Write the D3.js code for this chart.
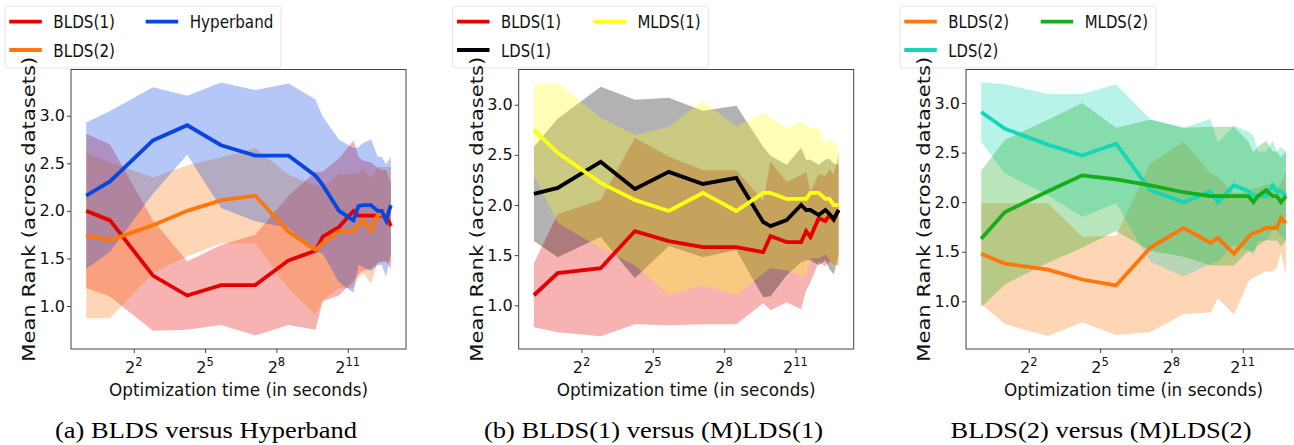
<!DOCTYPE html>
<html>
<head>
<meta charset="utf-8">
<script src="https://cdn.jsdelivr.net/npm/d3@7"></script>
<style>
  body { margin: 0; background: #fff; }
  svg { display: block; }
</style>
</head>
<body>
<div id="chart"></div>
<script>
// time points (seconds) shared by every series
var times = [1, 2, 7, 19, 51, 138, 365, 800, 990, 1585, 2420, 2800, 3170, 4040, 4900, 5520, 6250, 7200];
var xTickValues = [4, 32, 256, 2048];
var xTickExponents = ["2", "5", "8", "11"];
var yTickValues = [1.0, 1.5, 2.0, 2.5, 3.0];

// (a) BLDS versus Hyperband
var bldsOneMeanA = [2.00,1.90,1.32,1.11,1.22,1.22,1.48,1.58,1.73,1.83,2.00,1.95,1.95,1.95,1.95,1.95,1.95,1.84];
var bldsOneStdA  = [0.81,0.80,0.58,0.36,0.42,0.53,0.68,0.83,0.68,0.72,0.74,0.62,0.58,0.56,0.50,0.48,0.48,0.45];
var bldsTwoMeanA = [1.74,1.69,1.85,2.00,2.11,2.16,1.78,1.59,1.66,1.79,1.79,1.85,1.90,1.79,1.96,1.96,1.96,1.96];
var bldsTwoStdA  = [0.87,0.82,0.50,0.48,0.45,0.50,0.60,0.68,0.60,0.60,0.60,0.55,0.55,0.55,0.50,0.50,0.50,0.50];
var hyperMeanA   = [2.16,2.31,2.74,2.90,2.69,2.58,2.58,2.37,2.27,2.00,1.90,2.05,2.06,2.06,2.00,2.00,1.90,2.06];
var hyperStdA    = [0.77,0.74,0.56,0.31,0.66,0.69,0.76,0.80,0.72,0.75,0.76,0.62,0.65,0.69,0.57,0.57,0.59,0.51];

// (b) BLDS(1) versus (M)LDS(1)
var bldsOneMeanB = [1.10,1.32,1.37,1.74,1.64,1.58,1.58,1.53,1.69,1.63,1.63,1.74,1.68,1.87,1.84,1.90,1.85,1.95];
var bldsOneStdB  = [0.32,0.59,0.68,0.93,0.84,0.77,0.77,0.51,0.74,0.60,0.67,0.59,0.45,0.44,0.45,0.46,0.45,0.55];
var ldsOneMeanB  = [2.11,2.17,2.43,2.16,2.33,2.21,2.27,1.83,1.79,1.85,2.00,1.95,1.95,1.90,1.95,1.91,1.86,1.95];
var ldsOneStdB   = [0.47,0.69,0.75,0.89,0.74,0.73,0.72,0.75,0.70,0.55,0.57,0.50,0.50,0.50,0.50,0.55,0.55,0.45];
var mldsOneMeanB = [2.75,2.52,2.22,2.05,1.94,2.12,1.94,2.12,2.12,2.06,2.06,2.06,2.12,2.12,2.06,2.06,2.00,2.00];
var mldsOneStdB  = [0.45,0.70,0.65,0.65,0.84,0.92,0.84,0.80,0.75,0.71,0.77,0.74,0.65,0.65,0.55,0.60,0.62,0.57];

// BLDS(2) versus (M)LDS(2)
var bldsTwoMeanC = [1.48,1.38,1.32,1.22,1.16,1.54,1.74,1.59,1.64,1.48,1.65,1.69,1.70,1.74,1.74,1.74,1.84,1.79];
var bldsTwoStdC  = [0.51,0.61,0.67,0.43,0.50,0.85,0.87,0.70,0.61,0.61,0.45,0.45,0.44,0.44,0.44,0.40,0.35,0.52];
var ldsTwoMeanC  = [2.91,2.74,2.58,2.47,2.59,2.12,2.00,2.11,2.00,2.17,2.11,2.07,2.06,2.06,2.17,2.11,2.11,2.06];
var ldsTwoStdC   = [0.30,0.45,0.51,0.62,0.60,0.72,0.75,0.73,0.60,0.60,0.60,0.60,0.45,0.45,0.45,0.40,0.45,0.45];
var mldsTwoMeanC = [1.63,1.90,2.11,2.27,2.23,2.17,2.10,2.06,2.06,2.06,2.06,2.00,2.06,2.12,2.06,2.06,2.00,2.06];
var mldsTwoStdC  = [0.69,0.73,0.72,0.73,0.52,0.66,0.65,0.70,0.70,0.70,0.55,0.50,0.50,0.50,0.45,0.45,0.45,0.45];

var RED = "#e50000", ORANGE = "#ff760a", BLUE = "#0846e0",
    YELLOW = "#ffff14", BLACK = "#000000", TEAL = "#14d6b8", GREEN = "#15ad1a";

var panels = [
  { left: 71, yDomain: [0.548, 3.486], caption: "(a) BLDS versus Hyperband", captionX: 206, captionW: 302,
    legendW: 276,
    series: [
      { name: "BLDS(1)", color: RED, mean: bldsOneMeanA, std: bldsOneStdA, textW: 61.7 },
      { name: "BLDS(2)", color: ORANGE, mean: bldsTwoMeanA, std: bldsTwoStdA, textW: 61.7 },
      { name: "Hyperband", color: BLUE, mean: hyperMeanA, std: hyperStdA, textW: 83.7 }
    ] },
  { left: 518.7, yDomain: [0.564, 3.351], caption: "(b) BLDS(1) versus (M)LDS(1)", captionX: 653.5, captionW: 339,
    legendW: 255.6,
    series: [
      { name: "BLDS(1)", color: RED, mean: bldsOneMeanB, std: bldsOneStdB, textW: 60 },
      { name: "LDS(1)", color: BLACK, mean: ldsOneMeanB, std: ldsOneStdB, textW: 50 },
      { name: "MLDS(1)", color: YELLOW, mean: mldsOneMeanB, std: mldsOneStdB, textW: 63.3 }
    ] },
  { left: 966, yDomain: [0.519, 3.338], caption: "BLDS(2) versus (M)LDS(2)", captionX: 1101, captionW: 301,
    legendW: 256,
    series: [
      { name: "BLDS(2)", color: ORANGE, mean: bldsTwoMeanC, std: bldsTwoStdC, textW: 60.7 },
      { name: "LDS(2)", color: TEAL, mean: ldsTwoMeanC, std: ldsTwoStdC, textW: 50 },
      { name: "MLDS(2)", color: GREEN, mean: mldsTwoMeanC, std: mldsTwoStdC, textW: 63.3 }
    ] }
];

var width = 1294, height = 445;
var plotW = 335, plotTop = 69.5, plotBottom = 349;
var FONT = "DejaVu Sans, sans-serif";

var svg = d3.select("#chart").append("svg")
    .attr("width", width)
    .attr("height", height);

function drawPanel(p) {
  var g = svg.append("g");

  var x = d3.scaleLog().base(2)
      .domain([Math.pow(2, -0.64), Math.pow(2, 13.45)])
      .range([p.left, p.left + plotW]);
  var y = d3.scaleLinear()
      .domain(p.yDomain)
      .range([plotBottom, plotTop]);

  // std bands first (matplotlib draws collections under lines)
  p.series.forEach(function(s) {
    var band = d3.area()
        .x(function(d, i) { return x(times[i]); })
        .y0(function(d, i) { return y(s.mean[i] - s.std[i]); })
        .y1(function(d, i) { return y(s.mean[i] + s.std[i]); });
    g.append("path")
        .datum(s.mean)
        .attr("d", band)
        .attr("fill", s.color)
        .attr("fill-opacity", 0.3);
  });

  p.series.forEach(function(s) {
    var line = d3.line()
        .x(function(d, i) { return x(times[i]); })
        .y(function(d) { return y(d); });
    g.append("path")
        .datum(s.mean)
        .attr("d", line)
        .attr("fill", "none")
        .attr("stroke", s.color)
        .attr("stroke-width", 3.8)
        .attr("stroke-linejoin", "miter");
  });

  // frame
  g.append("rect")
      .attr("x", p.left).attr("y", plotTop)
      .attr("width", plotW).attr("height", plotBottom - plotTop)
      .attr("fill", "none").attr("stroke", "#444").attr("stroke-width", 1);

  // x axis
  var xAxis = g.append("g")
      .attr("transform", "translate(0," + plotBottom + ")")
      .call(d3.axisBottom(x).tickValues(xTickValues).tickSize(4).tickFormat(""));
  xAxis.select(".domain").remove();
  xAxis.selectAll(".tick line").attr("stroke", "#444");

  xTickValues.forEach(function(v, i) {
    var t = g.append("text")
        .attr("x", x(v))
        .attr("y", 372.5)
        .attr("text-anchor", "middle")
        .attr("font-family", FONT)
        .attr("font-size", 16)
        .attr("fill", "#111");
    t.append("tspan").text("2");
    t.append("tspan").attr("dy", -7).attr("font-size", 11.5).text(xTickExponents[i]);
  });

  // y axis
  var yAxis = g.append("g")
      .attr("transform", "translate(" + p.left + ",0)")
      .call(d3.axisLeft(y).tickValues(yTickValues).tickSize(4).tickPadding(2)
        .tickFormat(d3.format(".1f")));
  yAxis.select(".domain").remove();
  yAxis.selectAll(".tick line").attr("stroke", "#444");
  yAxis.selectAll(".tick text")
      .attr("font-family", FONT)
      .attr("font-size", 16)
      .attr("fill", "#111");

  // legend box
  var lx = p.left - 66, ly = 6;
  g.append("rect")
      .attr("x", lx).attr("y", ly)
      .attr("width", p.legendW).attr("height", 62)
      .attr("rx", 3)
      .attr("fill", "#fff").attr("fill-opacity", 0.8)
      .attr("stroke", "#e2e2e2");

  // column-wise entries like matplotlib ncol=2
  var slots = [[0, 0], [0, 1], [1, 0]];
  p.series.forEach(function(s, i) {
    var cx = lx + (slots[i][0] === 0 ? 4.3 : 140.7);
    var cy = ly + (slots[i][1] === 0 ? 15.7 : 44);
    g.append("line")
        .attr("x1", cx).attr("x2", cx + 32.5)
        .attr("y1", cy).attr("y2", cy)
        .attr("stroke", s.color).attr("stroke-width", 3.8);
    g.append("text")
        .attr("x", cx + 44)
        .attr("y", cy + 6.5)
        .attr("font-family", FONT)
        .attr("font-size", 17)
        .attr("fill", "#111")
        .attr("textLength", s.textW)
        .attr("lengthAdjust", "spacingAndGlyphs")
        .text(s.name);
  });

  // axis labels
  g.append("text")
      .attr("x", p.left + plotW / 2)
      .attr("y", 395.5)
      .attr("text-anchor", "middle")
      .attr("font-family", FONT)
      .attr("font-size", 18)
      .attr("fill", "#111")
      .attr("textLength", 259)
      .attr("lengthAdjust", "spacingAndGlyphs")
      .text("Optimization time (in seconds)");

  g.append("text")
      .attr("transform", "translate(" + (p.left - 36) + "," + ((plotTop + plotBottom) / 2) + ") rotate(-90)")
      .attr("text-anchor", "middle")
      .attr("font-family", FONT)
      .attr("font-size", 18)
      .attr("fill", "#111")
      .attr("textLength", 305)
      .attr("lengthAdjust", "spacingAndGlyphs")
      .text("Mean Rank (across datasets)");

  // caption
  g.append("text")
      .attr("x", p.captionX)
      .attr("y", 437.5)
      .attr("text-anchor", "middle")
      .attr("font-family", "Liberation Serif, Times New Roman, serif")
      .attr("font-size", 23.5)
      .attr("fill", "#000")
      .attr("textLength", p.captionW)
      .attr("lengthAdjust", "spacingAndGlyphs")
      .text(p.caption);
}

panels.forEach(drawPanel);
</script>
</body>
</html>
